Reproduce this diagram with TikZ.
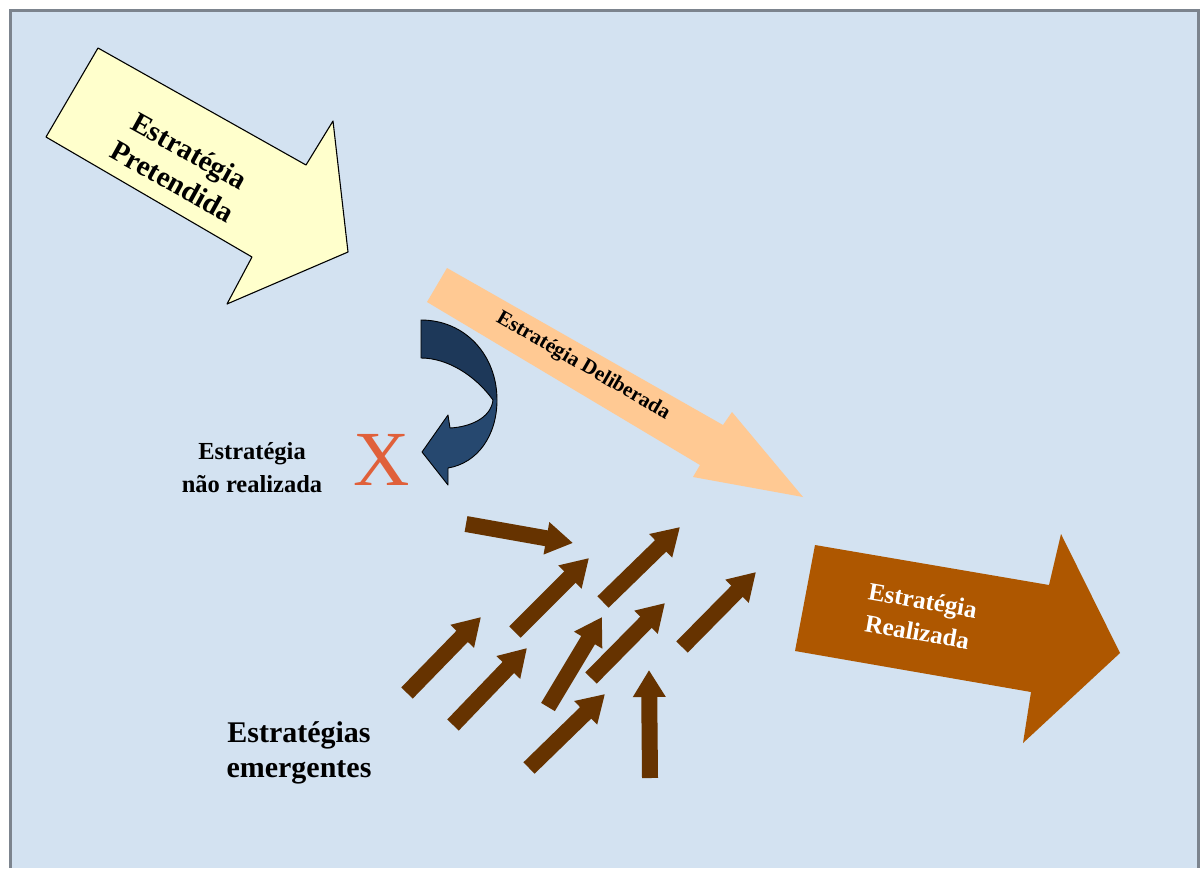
\documentclass[tikz,border=0pt]{standalone}
\usepackage{fontspec}
\setmainfont{Liberation Serif}
\usetikzlibrary{arrows.meta}
\definecolor{bgblue}{HTML}{D3E2F1}
\definecolor{framegray}{HTML}{7C848E}
\definecolor{pretyellow}{HTML}{FFFFCC}
\definecolor{delibpeach}{HTML}{FFC993}
\definecolor{realbrown}{HTML}{AE5700}
\definecolor{emergbrown}{HTML}{663300}
\definecolor{navytop}{HTML}{1D3859}
\definecolor{navybottom}{HTML}{26486F}
\definecolor{xred}{HTML}{E0603A}

\begin{document}
\begin{tikzpicture}[x=1pt,y=-1pt]
	\tikzset{darktext/.style={font=\bfseries, align=center, inner sep=0pt}}
	\tikzset{emerging/.style={draw=emergbrown, line width=16pt, -{Triangle[width=31pt,length=27pt]}}}
	\useasboundingbox (0,0) rectangle (1201,868);
	\fill[white] (0,0) rectangle (1201,868);
	\fill[bgblue] (10,10) rectangle (1198,868);
	\draw[framegray, line width=2.5pt] (10.5,868) -- (10.5,10.5) -- (1198.5,10.5) -- (1198.5,868);

	\filldraw[fill=pretyellow, draw=black, line width=1.1pt, line join=round]
		(98,48) -- (306,165) -- (333,121) -- (348,252) -- (227,304) -- (252,257) -- (46,137) -- cycle;
	\node[darktext, rotate=-29, font=\bfseries\fontsize{29}{35}\selectfont] (pret) at (181,166) {Estratégia\\Pretendida};

	\fill[delibpeach] (447,268) -- (723,425) -- (732,412) -- (803,497) -- (693,477) -- (700,465) -- (427,302) -- cycle;
	\node[darktext, rotate=-30, font=\bfseries\fontsize{21}{25}\selectfont] (delib) at (583,366) {Estratégia Deliberada};

	\fill[navytop] (421,320) .. controls (465,320) and (497,355) .. (497,400) -- (493,400)
		.. controls (475,375) and (447,358) .. (421,358) -- cycle;
	\fill[navybottom] (497,400) .. controls (497,435) and (478,463) .. (448,468) -- (448,485) -- (422,452)
		-- (448,415) -- (450,428) .. controls (470,427) and (491,418) .. (493,400) -- cycle;
	\draw[black, line width=0.9pt, line join=round] (421,320) .. controls (465,320) and (497,355) .. (497,400)
		.. controls (497,435) and (478,463) .. (448,468) -- (448,485) -- (422,452) -- (448,415) -- (450,428)
		.. controls (470,427) and (491,418) .. (493,400) .. controls (475,375) and (447,358) .. (421,358) -- cycle;

	\node[inner sep=0pt, text=xred, font=\fontsize{78}{78}\selectfont] (xmark) at (382,460) {X};
	\node[darktext, font=\bfseries\fontsize{24.5}{33}\selectfont] (naoreal) at (252,468) {Estratégia\\não realizada};

	\foreach \a/\b/\c/\d in {466/524/573/543, 515/632/589/558, 603/602/680/527, 407/693/481/617,
		453/725/527/648, 548/707/602/617, 591/678/665/603, 682/647/756/572, 529/768/605/694, 650/778/649/670}
		\draw[emerging] (\a,\b) -- (\c,\d);
	\node[darktext, font=\bfseries\fontsize{30}{35}\selectfont] (emerg) at (299,753) {Estratégias\\emergentes};

	\fill[realbrown] (815,545) -- (1049,585) -- (1061,534) -- (1120,653) -- (1023,743) -- (1031,692) -- (795,651) -- cycle;
	\node[align=center, inner sep=0pt, rotate=-10, text=white, font=\bfseries\fontsize{25}{32}\selectfont] (real) at (920,616) {Estratégia\\Realizada};
\end{tikzpicture}
\end{document}
